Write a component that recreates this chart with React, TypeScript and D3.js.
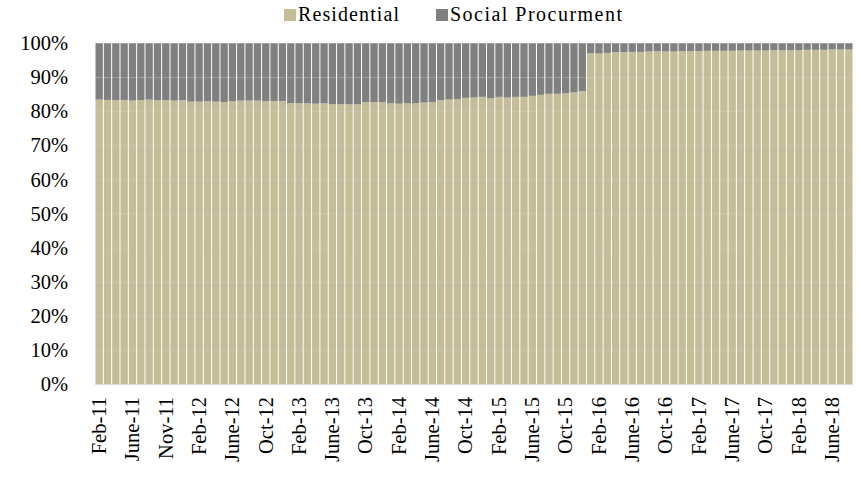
import React from "react";
import * as d3 from "d3";

const tickLabels = [
  "Feb-11", "June-11", "Nov-11", "Feb-12", "June-12", "Oct-12", "Feb-13", "June-13",
  "Oct-13", "Feb-14", "June-14", "Oct-14", "Feb-15", "June-15", "Oct-15", "Feb-16",
  "June-16", "Oct-16", "Feb-17", "June-17", "Oct-17", "Feb-18", "June-18",
];

// Residential share (%) per period; Social Procurment = 100 - residential
const residential = [
  83.4, 83.3, 83.2, 83.3, 83.1, 83.3, 83.4, 83.2, 83.3, 83.1, 83.2,
  82.8, 82.8, 82.9, 82.8, 82.7, 82.9,
  83.1, 83.1, 83.1,
  83.0, 83.0, 82.9,
  82.4, 82.3, 82.3, 82.2, 82.3, 82.1, 82.1, 82.0, 82.0,
  82.6, 82.7, 82.6,
  82.3, 82.2, 82.3, 82.4, 82.5,
  82.7,
  83.2, 83.4, 83.5,
  83.9,
  84.0, 84.2, 83.8, 84.2, 84.0, 84.2, 84.2, 84.5, 84.8, 85.1, 85.1, 85.3, 85.5, 85.9,
  97.0, 96.9, 97.1, 97.3, 97.3, 97.4, 97.4, 97.5, 97.6,
  97.5, 97.5, 97.6, 97.6, 97.6, 97.7, 97.7, 97.7, 97.7, 97.8, 97.8, 97.8,
  97.8, 97.9, 97.9, 97.9, 97.9, 98.0, 98.0, 98.0, 98.1, 98.1, 98.1,
];

const yTicks = [0, 10, 20, 30, 40, 50, 60, 70, 80, 90, 100];
const seriesNames = ["Residential", "Social Procurment"];
const colors = ["#C4BD97", "#808080"];

const W = 857;
const H = 489;
const FONT = "'Liberation Serif', 'Times New Roman', serif";

export default function App() {
  const idx = residential.map((_, i) => i);
  const x = d3.scaleBand<number>().domain(idx).range([95, 853]).paddingInner(0.12).paddingOuter(0.06);
  const y = d3.scaleLinear().domain([0, 100]).range([384, 43]);

  const legendPos = [284, 436];
  const legendLen = [101, 172];

  return (
    <svg width={W} height={H} style={{ position: "absolute", left: 0, top: 0, background: "#fff" }}>
      {residential.map((r, i) => (
        <g key={i}>
          <rect x={x(i)} y={y(r)} width={x.bandwidth()} height={y(0) - y(r)} fill={colors[0]} />
          <rect x={x(i)} y={y(100)} width={x.bandwidth()} height={y(r) - y(100)} fill={colors[1]} />
        </g>
      ))}
      {yTicks.map((t) => (
        <line key={t} x1={95} x2={853} y1={y(t) + 0.5} y2={y(t) + 0.5} stroke="#d9d9d9" strokeOpacity={0.35} strokeWidth={1} />
      ))}
      <line x1={95} x2={853} y1={y(0) + 0.5} y2={y(0) + 0.5} stroke="#d9d9d9" strokeWidth={1} />
      {yTicks.map((t) => (
        <text key={t} x={68} y={y(t)} dy="0.35em" textAnchor="end" fontFamily={FONT} fontSize={20.5} fill="#000">
          {t + "%"}
        </text>
      ))}
      {tickLabels.map((lab, k) => {
        const i = k * 4;
        const cx = (x(i) as number) + x.bandwidth() / 2;
        return (
          <text
            key={lab}
            transform={`translate(${cx},397) rotate(-90)`}
            dy="0.33em"
            textAnchor="end"
            fontFamily={FONT}
            fontSize={20.5}
            fill="#000"
          >
            {lab}
          </text>
        );
      })}
      {seriesNames.map((s, k) => {
        const lx = legendPos[k];
        return (
          <g key={s}>
            <rect x={lx} y={9} width={12} height={12} fill={colors[k]} />
            <text
              x={lx + 14}
              y={21}
              fontFamily={FONT}
              fontSize={20}
              fill="#000"
              textLength={legendLen[k]}
              lengthAdjust="spacing"
            >
              {s}
            </text>
          </g>
        );
      })}
    </svg>
  );
}
